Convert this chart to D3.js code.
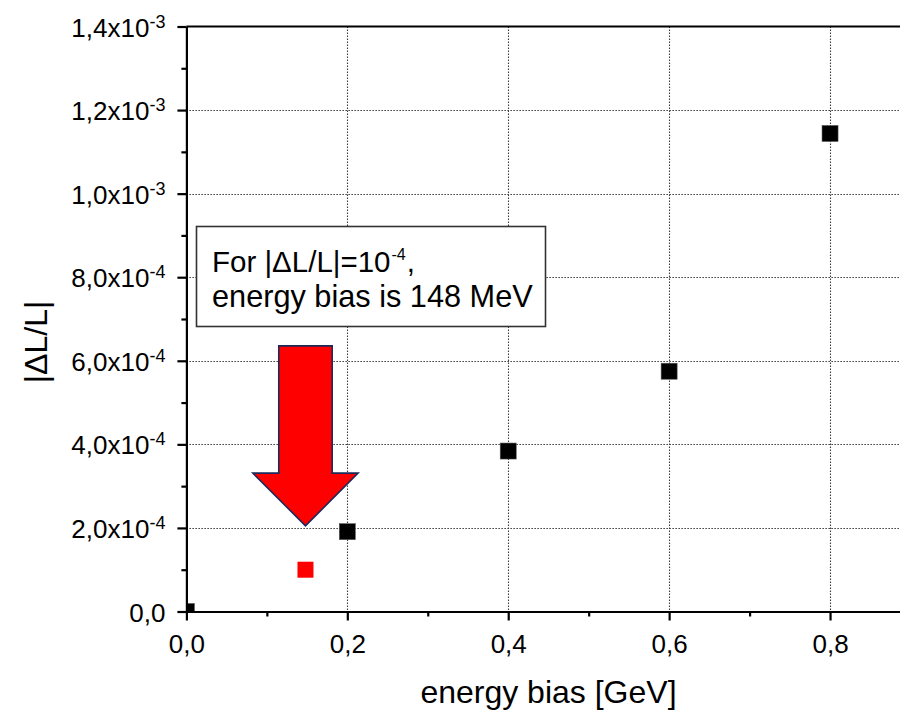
<!DOCTYPE html>
<html>
<head>
<meta charset="utf-8">
<script src="https://cdn.jsdelivr.net/npm/d3@7"></script>
<style>
  body { margin: 0; background: #fff; }
  svg { display: block; }
  text { font-family: "Liberation Sans", Arial, sans-serif; fill: #000; }
</style>
</head>
<body>
<svg id="chart" width="900" height="711"></svg>
<script>
// |ΔL/L| as a function of the beam energy bias
const energyBias = [0.0, 0.2, 0.4, 0.6, 0.8];
const deltaL     = [0.0, 1.91e-4, 3.84e-4, 5.75e-4, 1.144e-3];

// energy bias at which |ΔL/L| reaches 1e-4
const markedBias   = [0.148];
const markedDeltaL = [1.0e-4];

// axis ticks and labels
const xMajorTicks = [0.0, 0.2, 0.4, 0.6, 0.8];
const xMinorTicks = [0.1, 0.3, 0.5, 0.7, 0.9];
const xTickLabels = ["0,0", "0,2", "0,4", "0,6", "0,8"];
const yMajorTicks = [0, 2e-4, 4e-4, 6e-4, 8e-4, 1.0e-3, 1.2e-3, 1.4e-3];
const yMinorTicks = [1e-4, 3e-4, 5e-4, 7e-4, 9e-4, 1.1e-3, 1.3e-3];
const yTickMantissa = ["0,0", "2,0", "4,0", "6,0", "8,0", "1,0", "1,2", "1,4"];
const yTickExponent = [null, "-4", "-4", "-4", "-4", "-3", "-3", "-3"];

const xTitle = "energy bias [GeV]";
const yTitle = "|\u0394L/L|";
const noteLine1 = ["For |\u0394L/L|=10", "-4", ","];
const noteLine2 = "energy bias is 148 MeV";

// layout
const W = 900, H = 711;
const plot = { left: 186.4, right: 910.5, top: 26.5, bottom: 611.5 };
const axisColor = "#000";
const svg = d3.select("#chart");

svg.append("rect").attr("width", W).attr("height", H).attr("fill", "#fff");

const x = d3.scaleLinear().domain([0, 0.9]).range([plot.left, plot.right]);
const y = d3.scaleLinear().domain([0, 1.4e-3]).range([plot.bottom, plot.top]);

// dotted grid at the inner major ticks
const grid = svg.append("g")
  .attr("stroke", "#3a3a3a")
  .attr("stroke-width", 1.1)
  .attr("stroke-dasharray", "1.5,1.5");
grid.selectAll("line.v")
  .data(xMajorTicks.filter(d => d > 0))
  .join("line")
  .attr("class", "v")
  .attr("x1", d => Math.round(x(d)) + 0.5).attr("x2", d => Math.round(x(d)) + 0.5)
  .attr("y1", y(1.4e-3)).attr("y2", y(0));
grid.selectAll("line.h")
  .data(yMajorTicks.filter(d => d > 0 && d < 1.4e-3))
  .join("line")
  .attr("class", "h")
  .attr("x1", x(0)).attr("x2", x(0.9))
  .attr("y1", d => Math.round(y(d)) + 0.5).attr("y2", d => Math.round(y(d)) + 0.5);

// data squares, clipped to the plotting frame
svg.append("clipPath").attr("id", "plot-clip")
  .append("rect")
  .attr("x", plot.left).attr("y", plot.top)
  .attr("width", plot.right - plot.left).attr("height", plot.bottom - plot.top);

const marker = 16;
const pts = svg.append("g").attr("clip-path", "url(#plot-clip)");
pts.selectAll("rect.pt")
  .data(d3.zip(energyBias, deltaL))
  .join("rect")
  .attr("class", "pt")
  .attr("x", d => x(d[0]) - marker / 2)
  .attr("y", d => y(d[1]) - marker / 2)
  .attr("width", marker).attr("height", marker)
  .attr("fill", "#000")
  .attr("stroke", "#555").attr("stroke-width", 0.6);
pts.selectAll("rect.mark")
  .data(d3.zip(markedBias, markedDeltaL))
  .join("rect")
  .attr("class", "mark")
  .attr("x", d => x(d[0]) - marker / 2)
  .attr("y", d => y(d[1]) - marker / 2)
  .attr("width", marker).attr("height", marker)
  .attr("fill", "#ff0000");

// axes
const lw = 2.2;
function styleAxis(g) {
  g.select(".domain").attr("stroke", axisColor).attr("stroke-width", lw);
  g.selectAll(".tick line").attr("stroke", axisColor).attr("stroke-width", lw);
}

const yAxis = d3.axisLeft(y)
  .tickValues(yMajorTicks)
  .tickSize(9).tickSizeOuter(0).tickPadding(12)
  .tickFormat(() => "");
const gy = svg.append("g").attr("transform", `translate(${plot.left},0)`).call(yAxis).call(styleAxis);
gy.selectAll(".tick text")
  .attr("font-size", 26)
  .attr("font-family", null)
  .attr("dy", "0.37em")
  .each(function (d, i) {
    const t = d3.select(this);
    t.text(null);
    t.append("tspan").text(yTickMantissa[i] + (yTickExponent[i] ? "x10" : ""));
    if (yTickExponent[i]) {
      t.append("tspan").attr("font-size", 18).attr("dy", -9).text(yTickExponent[i]);
    }
  });

const yMinor = d3.axisLeft(y).tickValues(yMinorTicks).tickSize(5).tickFormat(() => "");
svg.append("g").attr("transform", `translate(${plot.left},0)`).call(yMinor).call(styleAxis)
  .select(".domain").remove();

const xAxis = d3.axisBottom(x)
  .tickValues(xMajorTicks)
  .tickSize(9).tickSizeOuter(0).tickPadding(14)
  .tickFormat((d, i) => xTickLabels[i]);
const gx = svg.append("g").attr("transform", `translate(0,${plot.bottom})`).call(xAxis).call(styleAxis);
gx.selectAll(".tick text").attr("font-size", 26).attr("font-family", null);

const xMinor = d3.axisBottom(x).tickValues(xMinorTicks).tickSize(5).tickFormat(() => "");
svg.append("g").attr("transform", `translate(0,${plot.bottom})`).call(xMinor).call(styleAxis)
  .select(".domain").remove();

// top frame line
svg.append("line")
  .attr("x1", plot.left).attr("x2", plot.right)
  .attr("y1", plot.top).attr("y2", plot.top)
  .attr("stroke", axisColor).attr("stroke-width", lw);

// axis titles
svg.append("text")
  .attr("x", (plot.left + plot.right) / 2).attr("y", 703)
  .attr("text-anchor", "middle").attr("font-size", 32)
  .text(xTitle);
svg.append("text")
  .attr("transform", `translate(47,342) rotate(-90)`)
  .attr("text-anchor", "middle").attr("font-size", 32)
  .text(yTitle);

// downward arrow pointing at the 1e-4 crossing
const tipX = x(markedBias[0]);
const tipY = y(2.05e-4);
const shaftHalf = 26.7, headHalf = 52.6, headLen = 52.7, arrowLen = 180;
const arrow = d3.path();
arrow.moveTo(tipX - shaftHalf, tipY - arrowLen);
arrow.lineTo(tipX + shaftHalf, tipY - arrowLen);
arrow.lineTo(tipX + shaftHalf, tipY - headLen);
arrow.lineTo(tipX + headHalf, tipY - headLen);
arrow.lineTo(tipX, tipY);
arrow.lineTo(tipX - headHalf, tipY - headLen);
arrow.lineTo(tipX - shaftHalf, tipY - headLen);
arrow.closePath();
svg.append("path")
  .attr("d", arrow.toString())
  .attr("fill", "#ff0000")
  .attr("stroke", "#1c2a5a").attr("stroke-width", 1.6)
  .attr("stroke-linejoin", "miter");

// annotation box
const note = svg.append("g");
note.append("rect")
  .attr("x", 196.5).attr("y", 226.5).attr("width", 349).attr("height", 100)
  .attr("fill", "#fff").attr("stroke", "#333").attr("stroke-width", 1.6);
const l1 = note.append("text").attr("x", 212).attr("y", 272).attr("font-size", 29.5);
l1.append("tspan").text(noteLine1[0]);
l1.append("tspan").attr("font-size", 16).attr("dy", -12).attr("dx", 1).text(noteLine1[1]);
l1.append("tspan").attr("dy", 12).attr("dx", 1).text(noteLine1[2]);
note.append("text").attr("x", 212).attr("y", 307).attr("font-size", 30.7).text(noteLine2);
</script>
</body>
</html>
